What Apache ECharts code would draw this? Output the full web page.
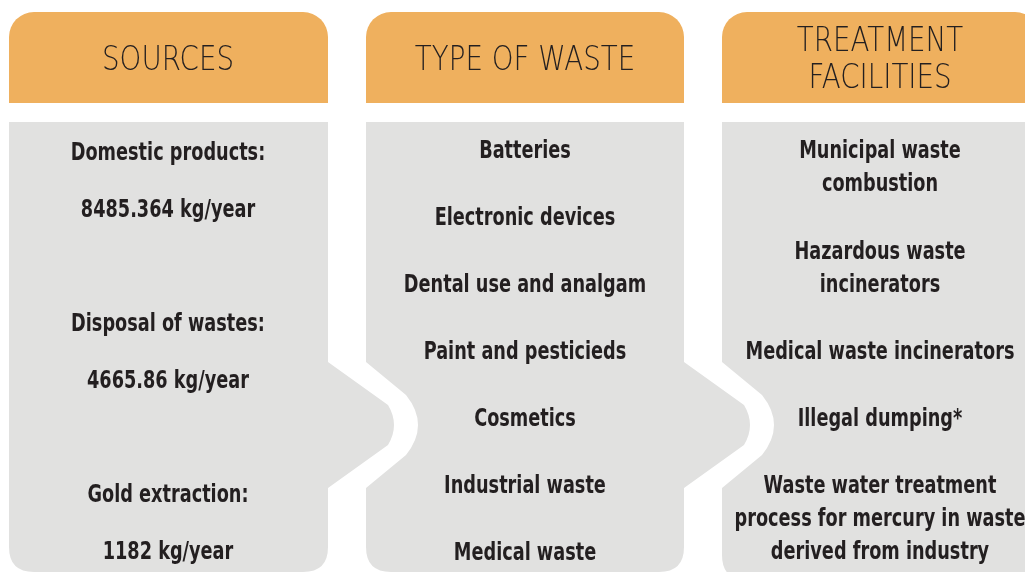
<!DOCTYPE html>
<html>
<head>
<meta charset="utf-8">
<script src="https://cdn.jsdelivr.net/npm/echarts@6/dist/echarts.min.js"></script>
<style>
  html, body { margin: 0; padding: 0; background: #fff; }
  #main { width: 1025px; height: 572px; }
</style>
</head>
<body>
<div id="main"></div>
<script>
// column contents
var headers = ['SOURCES', 'TYPE OF WASTE', 'TREATMENT\nFACILITIES'];
var sourceNames = ['Domestic products:', 'Disposal of wastes:', 'Gold extraction:'];
var sourceValues = ['8485.364 kg/year', '4665.86 kg/year', '1182 kg/year'];
var wasteTypes = ['Batteries', 'Electronic devices', 'Dental use and analgam',
  'Paint and pesticieds', 'Cosmetics', 'Industrial waste', 'Medical waste'];
var facilities = ['Municipal waste\ncombustion', 'Hazardous waste\nincinerators',
  'Medical waste incinerators', 'Illegal dumping*',
  'Waste water treatment\nprocess for mercury in waste\nderived from industry'];
var facilityRows = [0, 1.5, 3, 4, 5];

var chartDom = document.getElementById('main');
var myChart = echarts.init(chartDom, null, { renderer: 'canvas' });

var orange = '#efb05e';
var grey = '#e1e1e0';
var ink = '#231f20';
var bodyFont = '"Liberation Sans Narrow", "DejaVu Sans Condensed", sans-serif';
var headFont = '"DejaVu Sans", sans-serif';
var colX = [168, 525, 880];
var headerLeft = [9, 366, 722];
var headerRight = [328, 684, 1040];

// grey panels with the arrow notches
var panels = [
  'M9,122 H328 V362 L388,405 Q400,425 388,445 L328,488 V547 Q328,572 303,572 H34 Q9,572 9,547 Z',
  'M366,122 H684 V362 L744,405 Q756,425 744,445 L684,488 V547 Q684,572 659,572 H391 Q366,572 366,547 V488 L406,455 Q430,425 406,395 L366,362 Z',
  'M722,122 H1040 V580 H747 Q722,580 722,555 V488 L762,455 Q786,425 762,395 L722,362 Z'
];

var graphics = [];

headers.forEach(function (h, i) {
  graphics.push({
    type: 'rect', z: 50,
    shape: { x: headerLeft[i], y: 12, width: headerRight[i] - headerLeft[i], height: 91, r: [25, 25, 0, 0] },
    style: { fill: orange }
  });
  graphics.push({
    type: 'text', z: 100,
    x: colX[i], y: 61, scaleX: 0.84,
    style: {
      text: h, fill: ink, font: '200 33px ' + headFont,
      align: 'center', verticalAlign: 'middle', lineHeight: 37
    }
  });
});

function bodyText(txt, x, y) {
  graphics.push({
    type: 'text', x: x, y: y, z: 100, scaleX: 0.82,
    style: {
      text: txt, fill: ink, font: 'bold 24px ' + bodyFont,
      align: 'center', verticalAlign: 'middle', lineHeight: 33
    }
  });
}

sourceNames.forEach(function (n, i) {
  bodyText(n, colX[0], 154 + i * 171);
  bodyText(sourceValues[i], colX[0], 211 + i * 171);
});

wasteTypes.forEach(function (w, i) {
  bodyText(w, colX[1], 152 + i * 67);
});

facilities.forEach(function (f, i) {
  var lines = f.split('\n').length;
  bodyText(f, colX[2], 152 + facilityRows[i] * 67 + (lines - 1) * 16.5);
});

var option = {
  animation: false,
  series: [{
    type: 'custom',
    coordinateSystem: 'none',
    silent: true,
    z: 0,
    data: [0, 1, 2],
    renderItem: function (params) {
      return {
        type: 'path',
        shape: { pathData: panels[params.dataIndex] },
        style: { fill: grey }
      };
    }
  }],
  graphic: { elements: graphics }
};

myChart.setOption(option);
</script>
</body>
</html>
